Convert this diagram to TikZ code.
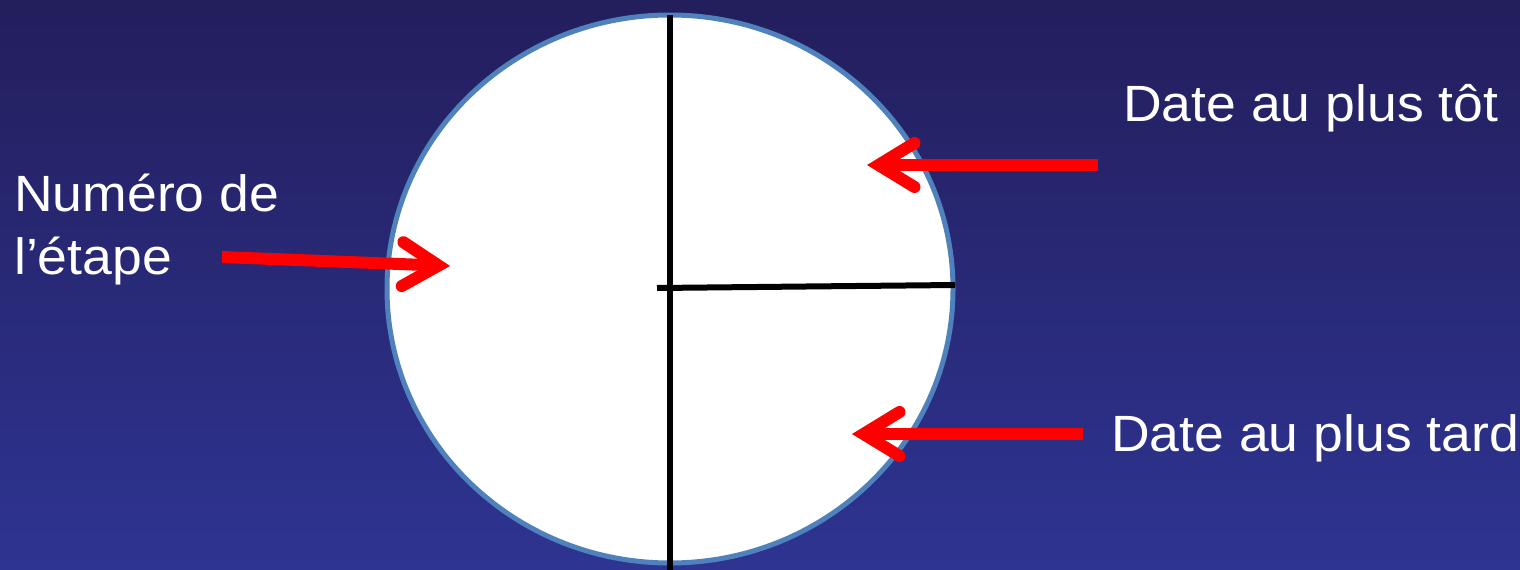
\documentclass[tikz,border=0pt]{standalone}
\usepackage{fontspec}
\setmainfont[FakeStretch=1.05]{Liberation Sans}
\usetikzlibrary{positioning,calc,arrows.meta,shapes.geometric}
\definecolor{navytop}{RGB}{35,30,92}
\definecolor{navybottom}{RGB}{46,52,146}
\definecolor{rim}{RGB}{79,129,189}
\definecolor{pointer}{RGB}{255,0,0}

\begin{document}
\begin{tikzpicture}[
    x=1pt,
    y=-1pt,
    every node/.style={font=\fontsize{51}{63}\selectfont},
    notetext/.style={
        text=white,
        inner sep=0pt,
        anchor=base west,
        align=left
    },
    divider/.style={
        line width=6pt,
        black
    },
    pointerarrow/.style={
        line width=12pt,
        pointer,
        -{Straight Barb[length=36pt,width=44pt,line cap=round,line join=miter]}
    }
]

\useasboundingbox (0,0) rectangle (1520,570);
\shade[top color=navytop, bottom color=navybottom] (0,0) rectangle (1520,570);

\node[
    ellipse,
    draw=rim,
    line width=5pt,
    fill=white,
    inner sep=0pt,
    minimum width=566pt,
    minimum height=548pt
] (stagecircle) at (670,289)
{};

\node[
    notetext
] (earliest) at (1123,121)
{Date au plus tôt};

\node[
    notetext
] (latest) at (1111,451)
{Date au plus tard};

\node[
    notetext
] (number) at (14,274)
{Numéro de\\l’étape};

\coordinate (splittop) at (670,15);
\coordinate (splitbottom) at (670,572);
\coordinate (splitleft) at (657,288);
\coordinate (splitright) at (955,285);

\draw[divider] (splittop) -- (splitbottom);
\draw[divider] (splitleft) -- (splitright);

\coordinate (earliesttail) at (1098,165);
\coordinate (earliesttip) at (867,165);
\coordinate (latesttail) at (1083,434);
\coordinate (latesttip) at (852,434);
\coordinate (numbertail) at (222,257);
\coordinate (numbertip) at (450,266);

\draw[
    pointerarrow
]
(earliesttail) -- (earliesttip);

\draw[
    pointerarrow
]
(latesttail) -- (latesttip);

\draw[
    pointerarrow
]
(numbertail) -- (numbertip);

\end{tikzpicture}
\end{document}
